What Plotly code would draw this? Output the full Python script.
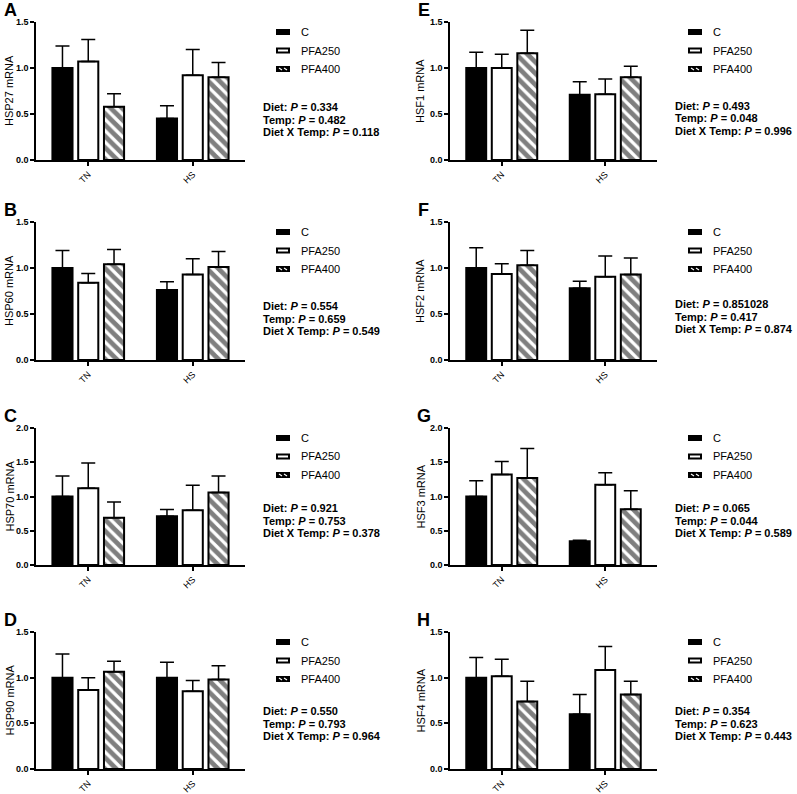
import plotly.graph_objects as go

W, H = 797, 794

TEMPS = ["TN", "HS"]
DIETS = ["C", "PFA250", "PFA400"]

# rows = diet (C, PFA250, PFA400), cols = temperature (TN, HS)
HSP27_MEAN = [[1.00, 0.45], [1.07, 0.92], [0.58, 0.90]]
HSP27_SEM = [[0.24, 0.14], [0.24, 0.28], [0.14, 0.16]]
HSP27_P = ["0.334", "0.482", "0.118"]

HSP60_MEAN = [[1.00, 0.76], [0.84, 0.93], [1.04, 1.01]]
HSP60_SEM = [[0.19, 0.09], [0.10, 0.17], [0.16, 0.17]]
HSP60_P = ["0.554", "0.659", "0.549"]

HSP70_MEAN = [[1.00, 0.71], [1.12, 0.80], [0.69, 1.06]]
HSP70_SEM = [[0.30, 0.10], [0.37, 0.365], [0.23, 0.24]]
HSP70_P = ["0.921", "0.753", "0.378"]

HSP90_MEAN = [[1.00, 1.00], [0.865, 0.85], [1.065, 0.98]]
HSP90_SEM = [[0.26, 0.17], [0.135, 0.12], [0.115, 0.15]]
HSP90_P = ["0.550", "0.793", "0.964"]

HSF1_MEAN = [[1.00, 0.71], [1.00, 0.715], [1.16, 0.90]]
HSF1_SEM = [[0.17, 0.14], [0.15, 0.165], [0.25, 0.12]]
HSF1_P = ["0.493", "0.048", "0.996"]

HSF2_MEAN = [[1.00, 0.78], [0.935, 0.905], [1.03, 0.93]]
HSF2_SEM = [[0.22, 0.075], [0.11, 0.225], [0.16, 0.18]]
HSF2_P = ["0.851028", "0.417", "0.874"]

HSF3_MEAN = [[1.00, 0.345], [1.32, 1.17], [1.27, 0.815]]
HSF3_SEM = [[0.23, 0.015], [0.19, 0.175], [0.43, 0.27]]
HSF3_P = ["0.065", "0.044", "0.589"]

HSF4_MEAN = [[1.00, 0.60], [1.016, 1.085], [0.74, 0.815]]
HSF4_SEM = [[0.22, 0.215], [0.185, 0.255], [0.22, 0.145]]
HSF4_P = ["0.354", "0.623", "0.443"]

PANELS = [
    ("A", "HSP27 mRNA", HSP27_MEAN, HSP27_SEM, HSP27_P, 1.5),
    ("B", "HSP60 mRNA", HSP60_MEAN, HSP60_SEM, HSP60_P, 1.5),
    ("C", "HSP70 mRNA", HSP70_MEAN, HSP70_SEM, HSP70_P, 2.0),
    ("D", "HSP90 mRNA", HSP90_MEAN, HSP90_SEM, HSP90_P, 1.5),
    ("E", "HSF1 mRNA", HSF1_MEAN, HSF1_SEM, HSF1_P, 1.5),
    ("F", "HSF2 mRNA", HSF2_MEAN, HSF2_SEM, HSF2_P, 1.5),
    ("G", "HSF3 mRNA", HSF3_MEAN, HSF3_SEM, HSF3_P, 2.0),
    ("H", "HSF4 mRNA", HSF4_MEAN, HSF4_SEM, HSF4_P, 1.5),
]

# layout geometry (pixels)
COL_X = [(36, 245), (450, 657)]
ROW_Y = [(22, 160), (222, 360), (428, 565), (632, 769)]
STAT_Y = [[107, 306, 508, 711], [106, 304, 508, 711]]
LEG_X = [276, 688]
STAT_X = [261, 673]
LETTER_X = [10, 424]
YTITLE_X = [9, 420]

FONT = "Arial, Liberation Sans, Helvetica, sans-serif"


def px(x):
    return x / W


def py(y):
    return 1 - y / H


def diet_marker(i):
    if i == 0:
        return dict(color="black", line=dict(color="black", width=2))
    if i == 1:
        return dict(color="white", line=dict(color="black", width=2))
    return dict(color="white", line=dict(color="black", width=2),
                pattern=dict(shape="\\", fgcolor="black", bgcolor="white",
                             size=8, solidity=0.6))


fig = go.Figure()
annotations = []
shapes = []

for k, (letter, ylab, mean, sem, pvals, ymax) in enumerate(PANELS):
    col, row = k // 4, k % 4
    idx = "" if k == 0 else str(k + 1)
    xa, ya = "x" + idx, "y" + idx
    for i, diet in enumerate(DIETS):
        fig.add_trace(go.Bar(
            x=TEMPS, y=mean[i], name=diet, xaxis=xa, yaxis=ya,
            marker=diet_marker(i), showlegend=False,
            error_y=dict(type="data", symmetric=False, array=sem[i],
                         arrayminus=[0] * len(sem[i]), color="black",
                         thickness=1.5, width=7),
        ))
    x0, x1 = COL_X[col]
    y0, y1 = ROW_Y[row]
    ticks = [v / 2 for v in range(int(ymax * 2) + 1)]
    fig.layout["xaxis" + idx] = dict(
        domain=[px(x0), px(x1)], anchor=ya, type="category", automargin=False,
        range=[-0.5, 1.5], showline=True, linecolor="black", linewidth=1.5,
        ticks="outside", ticklen=4, tickwidth=1.5, tickcolor="black",
        tickangle=-45, tickfont=dict(family=FONT, size=9, color="black"),
        showgrid=False, zeroline=False, fixedrange=True,
    )
    fig.layout["yaxis" + idx] = dict(
        domain=[py(y1), py(y0)], anchor=xa, range=[0, ymax], automargin=False,
        tickvals=ticks, ticktext=[f"<b>{t:.1f}</b>" for t in ticks],
        showline=True, linecolor="black", linewidth=1.5,
        ticks="outside", ticklen=4, tickwidth=1.5, tickcolor="black",
        tickfont=dict(family=FONT, size=9, color="black"),
        showgrid=False, zeroline=False, fixedrange=True,
    )
    # panel letter
    annotations.append(dict(
        text=f"<b>{letter}</b>", x=px(LETTER_X[col]), y=py(y0 - 12),
        xref="paper", yref="paper", xanchor="center", yanchor="middle",
        showarrow=False, font=dict(family=FONT, size=18, color="black")))
    # y title
    annotations.append(dict(
        text=ylab, x=px(YTITLE_X[col]), y=py((y0 + y1) / 2),
        xref="paper", yref="paper", xanchor="center", yanchor="middle",
        textangle=-90, showarrow=False,
        font=dict(family=FONT, size=11, color="black")))
    # legend
    lx = LEG_X[col]
    for i, diet in enumerate(DIETS):
        ly = y0 + 10 + i * 18.5
        if i == 0:
            shapes.append(dict(type="rect", xref="paper", yref="paper",
                               x0=px(lx), x1=px(lx + 14), y0=py(ly + 3), y1=py(ly - 3),
                               fillcolor="black", line=dict(width=0)))
        elif i == 1:
            shapes.append(dict(type="rect", xref="paper", yref="paper",
                               x0=px(lx + 1), x1=px(lx + 13), y0=py(ly + 2), y1=py(ly - 2),
                               fillcolor="white", line=dict(color="black", width=2)))
        else:
            shapes.append(dict(type="rect", xref="paper", yref="paper",
                               x0=px(lx), x1=px(lx + 14), y0=py(ly + 3), y1=py(ly - 3),
                               fillcolor="black", line=dict(width=0)))
            for dx in (3, 8):
                shapes.append(dict(type="line", xref="paper", yref="paper",
                                   x0=px(lx + dx), x1=px(lx + dx + 3),
                                   y0=py(ly - 1), y1=py(ly + 1),
                                   line=dict(color="white", width=1.2)))
        annotations.append(dict(
            text=diet, x=px(lx + 23), y=py(ly), xref="paper", yref="paper",
            xanchor="left", yanchor="middle", showarrow=False,
            font=dict(family=FONT, size=11, color="black")))
    # stats
    labels = ["Diet", "Temp", "Diet X Temp"]
    sy = STAT_Y[col][row]
    for j, lab in enumerate(labels):
        annotations.append(dict(
            text=f"<b>{lab}: <i>P</i> = {pvals[j]}</b>",
            x=px(STAT_X[col]), y=py(sy + j * 12.5), xref="paper", yref="paper",
            xanchor="left", yanchor="middle", showarrow=False,
            font=dict(family=FONT, size=11, color="black")))

fig.update_layout(
    width=W, height=H, margin=dict(l=0, r=0, t=0, b=0, autoexpand=False),
    paper_bgcolor="white", plot_bgcolor="white",
    barmode="group", bargap=0.26, bargroupgap=0.22,
    showlegend=False, annotations=annotations, shapes=shapes,
    font=dict(family=FONT, color="black"),
)

fig.write_html(
    "out.html",
    config={"displayModeBar": False},
    post_script="document.body.style.margin='0';"
                "document.documentElement.style.overflow='hidden';",
)
